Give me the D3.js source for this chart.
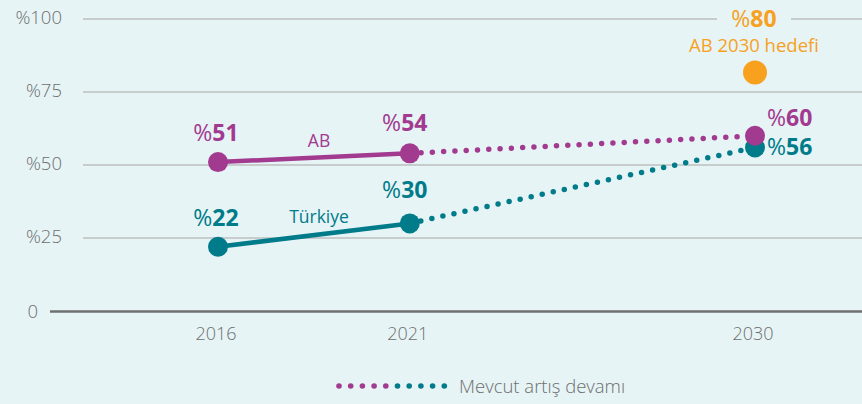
<!DOCTYPE html>
<html>
<head>
<meta charset="utf-8">
<script src="https://cdn.jsdelivr.net/npm/d3@7"></script>
<style>
  body { margin: 0; background: #e6f4f6; }
  svg { display: block; font-family: "Open Sans", "Noto Sans", sans-serif; }
</style>
</head>
<body>
<svg id="chart" width="862" height="404"></svg>
<script>
// chart data
var years = [2016, 2021, 2030];
var yTicks = [0, 25, 50, 75, 100];
var abActual = [51, 54];        // 2016, 2021
var trActual = [22, 30];
var abProjected = [54, 60];     // 2021 -> 2030
var trProjected = [30, 56];
var abTarget = 80;              // AB 2030 hedefi
var seriesNames = ["AB", "Türkiye"];
var legendLabel = "Mevcut artış devamı";
var targetLabel = "AB 2030 hedefi";

var purple = "#a23a8f",
    teal = "#007b8a",
    orange = "#f7a11e",
    grey = "#6e6e6e",
    bg = "#e6f4f6";

var svg = d3.select("#chart");

var x = d3.scaleLinear().domain([2016, 2030]).range([218, 755]);
var y = d3.scaleLinear().domain([0, 100]).range([311, 19]);

// gridlines
svg.append("g").selectAll("line")
  .data(yTicks.filter(d => d > 0))
  .enter().append("line")
  .attr("x1", 83).attr("x2", 862)
  .attr("y1", d => y(d)).attr("y2", d => y(d))
  .attr("stroke", "#bdbfbf").attr("stroke-width", 1.5);

// baseline
svg.append("line")
  .attr("x1", 50).attr("x2", 862)
  .attr("y1", y(0) + 0.5).attr("y2", y(0) + 0.5)
  .attr("stroke", "#707070").attr("stroke-width", 2.5);

// y labels
svg.append("g").selectAll("text")
  .data(yTicks)
  .enter().append("text")
  .attr("x", d => d == 0 ? 38 : 62)
  .attr("y", d => d == 0 ? y(d) + 7 : y(d) + 4.5)
  .attr("text-anchor", "end")
  .attr("fill", grey)
  .attr("font-size", 18.5)
  .attr("font-weight", 300)
  .text(d => d == 0 ? "0" : "%" + d);

// x labels
svg.append("g").selectAll("text")
  .data(years)
  .enter().append("text")
  .attr("x", d => x(d) - 2)
  .attr("y", 340)
  .attr("text-anchor", "middle")
  .attr("fill", grey)
  .attr("font-size", 18)
  .attr("font-weight", 300)
  .text(d => d);

var line = d3.line().x(d => x(d[0])).y(d => y(d[1]));

function dotted(vals, color) {
  svg.append("path")
    .datum([[years[1], vals[0]], [years[2], vals[1]]])
    .attr("d", line)
    .attr("fill", "none")
    .attr("stroke", color)
    .attr("stroke-width", 5.5)
    .attr("stroke-linecap", "round")
    .attr("stroke-dasharray", "0 11.3");
}
dotted(trProjected, teal);
dotted(abProjected, purple);

function solid(vals, color) {
  svg.append("path")
    .datum([[years[0], vals[0]], [years[1], vals[1]]])
    .attr("d", line)
    .attr("fill", "none")
    .attr("stroke", color)
    .attr("stroke-width", 4.5);
}
solid(trActual, teal);
solid(abActual, purple);

// markers
var trPts = [[years[0], trActual[0]], [years[1], trActual[1]], [years[2], trProjected[1]]];
var abPts = [[years[0], abActual[0]], [years[1], abActual[1]], [years[2], abProjected[1]]];
svg.append("g").selectAll("circle").data(trPts).enter().append("circle")
  .attr("cx", d => x(d[0])).attr("cy", d => y(d[1])).attr("r", 10).attr("fill", teal);
svg.append("g").selectAll("circle").data(abPts).enter().append("circle")
  .attr("cx", d => x(d[0])).attr("cy", d => y(d[1])).attr("r", 10).attr("fill", purple);
svg.append("circle")
  .attr("cx", x(2030)).attr("cy", y(abTarget) - 5).attr("r", 12).attr("fill", orange);

// value labels: "%" regular, number bold
function valueLabel(xp, yp, v, color, anchor) {
  var t = svg.append("text")
    .attr("x", xp).attr("y", yp)
    .attr("text-anchor", anchor)
    .attr("fill", color)
    .attr("font-size", 23);
  t.append("tspan").attr("font-weight", 400).text("%");
  t.append("tspan").attr("font-weight", 700).text(v);
  return t;
}
valueLabel(x(2016) - 2, 141, abActual[0], purple, "middle");
valueLabel(x(2021) - 5, 131, abActual[1], purple, "middle");
valueLabel(x(2016) - 2, 226, trActual[0], teal, "middle");
valueLabel(x(2021) - 5, 198, trActual[1], teal, "middle");
valueLabel(x(2030) + 12, 126, abProjected[1], purple, "start");
valueLabel(x(2030) + 12, 155, trProjected[1], teal, "start");

// target label with gap in gridline
svg.append("rect")
  .attr("x", x(2030) - 38).attr("y", y(100) - 6)
  .attr("width", 74).attr("height", 12)
  .attr("fill", bg);
valueLabel(x(2030) - 1, 27, abTarget, orange, "middle");
svg.append("text")
  .attr("x", x(2030) - 1).attr("y", 52)
  .attr("text-anchor", "middle")
  .attr("fill", orange)
  .attr("font-size", 18.5)
  .text(targetLabel);

// series names
svg.append("text")
  .attr("x", 319).attr("y", 147)
  .attr("text-anchor", "middle").attr("fill", purple).attr("font-size", 17.5)
  .text(seriesNames[0]);
svg.append("text")
  .attr("x", 319).attr("y", 223)
  .attr("text-anchor", "middle").attr("fill", teal).attr("font-size", 17.5)
  .text(seriesNames[1]);

// legend
var legend = svg.append("g").attr("transform", "translate(339,386)");
legend.selectAll("circle")
  .data(d3.range(10))
  .enter().append("circle")
  .attr("cx", d => d * 11.7)
  .attr("cy", 0)
  .attr("r", 2.8)
  .attr("fill", d => d < 5 ? purple : teal);
legend.append("text")
  .attr("x", 120).attr("y", 6.5)
  .attr("fill", grey)
  .attr("font-size", 18.5)
  .attr("font-weight", 300)
  .text(legendLabel);
</script>
</body>
</html>
